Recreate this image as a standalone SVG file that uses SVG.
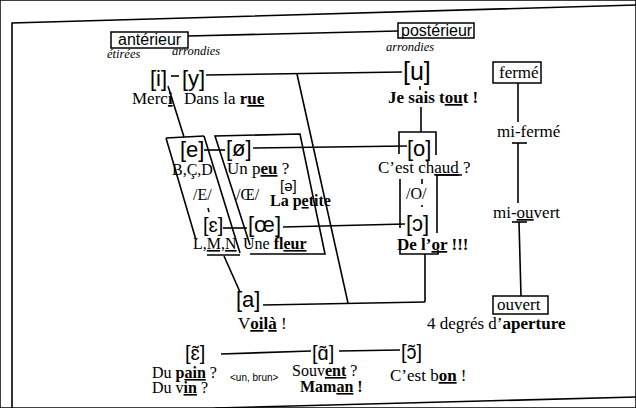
<svg xmlns="http://www.w3.org/2000/svg" width="636" height="408" viewBox="0 0 636 408">
<style>
.s{font-family:"Liberation Serif",serif;font-size:17px;fill:#000}
.b{font-weight:bold}
.u{text-decoration:underline}
.it{font-family:"Liberation Serif",serif;font-style:italic;font-size:12.5px;fill:#000}
.ipa{font-family:"Liberation Sans","DejaVu Sans",sans-serif;font-size:22px;fill:#000}
.lbl{font-family:"Liberation Sans",sans-serif;font-size:16px;fill:#000}
.sm{font-family:"Liberation Sans",sans-serif;font-size:10px;fill:#000}
line,polyline,path{stroke:#000;stroke-width:1.6;fill:none}
rect{fill:#fff;stroke:#000;stroke-width:1.5}
</style>
<rect x="0" y="0" width="636" height="408" fill="#fff" stroke="none"/>
<g id="frame">
<path d="M12,408 L12,23 L636,5"/>
<line x1="215" y1="408" x2="636" y2="397"/>
</g>
<g id="connectors">
<line x1="188" y1="36" x2="398" y2="31"/>
<line x1="171" y1="76" x2="179" y2="76"/>
<line x1="206" y1="75" x2="402" y2="72"/>
<line x1="297" y1="74" x2="348" y2="303"/>
<line x1="168" y1="86" x2="184" y2="137"/>
<line x1="421" y1="107" x2="421" y2="132"/>
<line x1="420" y1="86" x2="420" y2="90"/>
<polyline points="399,154 399,132 436,132 436,155"/>
<line x1="204" y1="150" x2="225" y2="150"/>
<line x1="253" y1="148" x2="407" y2="146"/>
<line x1="223" y1="228" x2="247" y2="228"/>
<line x1="283" y1="227" x2="405" y2="224"/>
<polyline points="166,138 204,136"/>
<line x1="166" y1="138" x2="196" y2="240"/>
<line x1="204" y1="136" x2="240" y2="253"/>
<line x1="207" y1="255" x2="240" y2="255"/>
<line x1="224" y1="256" x2="240" y2="292"/>
<polyline points="250,245 215,136 300,134 325,254 250,254"/>
<line x1="208" y1="208" x2="209" y2="212"/>
<line x1="422" y1="179" x2="422" y2="184"/>
<line x1="422" y1="205" x2="422" y2="207"/>
<polyline points="400,179 400,228"/>
<polyline points="462,175 437,175 437,233"/>
<polyline points="400,250 400,254 438,254 438,250"/>
<line x1="425" y1="254" x2="425" y2="302"/>
<line x1="263" y1="305" x2="425" y2="302"/>
<line x1="518" y1="83" x2="518" y2="122"/>
<line x1="512" y1="143" x2="527" y2="143"/>
<line x1="518" y1="143" x2="518" y2="203"/>
<line x1="512" y1="222" x2="527" y2="222"/>
<line x1="519" y1="222" x2="521" y2="296"/>
<line x1="221" y1="354" x2="311" y2="351"/>
<line x1="339" y1="351" x2="400" y2="350"/>
</g>
<g id="anterieur"><rect x="111" y="32" width="77" height="16"/><text class="lbl" x="118" y="45">antérieur</text></g>
<g id="posterieur"><rect x="398" y="23" width="76" height="15"/><text class="lbl" x="401" y="36">postérieur</text></g>
<g id="etirees"><text class="it" x="107" y="58">étirées</text></g>
<g id="arrondies1"><text class="it" x="172" y="55">arrondies</text></g>
<g id="arrondies2"><text class="it" x="386" y="51">arrondies</text></g>
<g id="i"><text class="ipa" x="150" y="86">[i]</text><text class="s" x="132" y="104">Merc<tspan class="u b">i</tspan></text></g>
<g id="y"><text class="ipa" x="182" y="86">[y]</text><text class="s" x="184" y="104">Dans la <tspan class="b">r<tspan class="u">ue</tspan></tspan></text></g>
<g id="u"><text class="ipa" x="403" y="80" style="font-size:25px">[u]</text><text class="s b" x="388" y="103">Je sais t<tspan class="u">ou</tspan>t !</text></g>
<g id="e"><text class="ipa" x="180" y="157">[e]</text><text class="s" x="172" y="175" style="font-size:16px">B,Ç,D</text><text class="s" x="193" y="200" style="font-size:16px">/E/</text></g>
<g id="oe-slash"><text class="ipa" x="226" y="156">[ø]</text><text class="s" x="227" y="174">Un p<tspan class="u b">eu</tspan> ?</text><text class="s" x="236" y="200" style="font-size:16px">/Œ/</text></g>
<g id="schwa"><text class="ipa" x="280" y="191" style="font-size:15px">[ə]</text><text class="s b" x="270" y="206" style="font-size:16px">La p<tspan class="u">e</tspan>tite</text></g>
<g id="o"><text class="ipa" x="407" y="156">[o]</text><text class="s" x="378" y="173">C’est ch<tspan class="u">aud</tspan> ?</text><text class="s" x="406" y="199" style="font-size:16px">/O/</text></g>
<g id="epsilon"><text class="ipa" x="203" y="232" style="font-size:20px">[ɛ]</text><text class="s" x="193" y="249" style="font-size:16px">L,<tspan class="u">M,N</tspan></text></g>
<g id="oe"><text class="ipa" x="248" y="232">[œ]</text><text class="s" x="243" y="249" style="font-size:16px">Une <tspan class="b">fl<tspan class="u">eur</tspan></tspan></text></g>
<g id="openo"><text class="ipa" x="406" y="231">[ɔ]</text><text class="s b" x="397" y="250">De l’<tspan class="u">or</tspan> !!!</text></g>
<g id="a"><text class="ipa" x="236" y="307">[a]</text><text class="s" x="238" y="329">V<tspan class="b"><tspan class="u">oi</tspan>l<tspan class="u">à</tspan></tspan> !</text></g>
<g id="ferme"><rect x="493" y="62" width="48" height="21"/><text class="s" x="499" y="78">fermé</text></g>
<g id="mi-ferme"><text class="s" x="497" y="137">mi-fermé</text></g>
<g id="mi-ouvert"><text class="s" x="493" y="218">mi-<tspan class="u">ou</tspan>vert</text></g>
<g id="ouvert"><rect x="493" y="296" width="55" height="18"/><text class="s" x="497" y="310">ouvert</text></g>
<g id="aperture"><text class="s" x="427" y="329">4 degrés d’<tspan class="b">aperture</tspan></text></g>
<g id="nasal-e"><text class="ipa" x="185" y="360" style="font-size:20px">[ɛ̃]</text><text class="s" x="152" y="378" style="font-size:16px">Du <tspan class="b">p<tspan class="u">ain</tspan></tspan> ?</text><text class="s" x="152" y="393" style="font-size:16px">Du v<tspan class="u b">in</tspan> ?</text><text class="sm" x="230" y="381">&lt;un, brun&gt;</text></g>
<g id="nasal-a"><text class="ipa" x="312" y="360" style="font-size:20px">[ɑ̃]</text><text class="s" x="292" y="376" style="font-size:16px">Souv<tspan class="u b">ent</tspan> ?</text><text class="s b" x="300" y="392" style="font-size:16px">Mam<tspan class="u">an</tspan> !</text></g>
<g id="nasal-o"><text class="ipa" x="401" y="359" style="font-size:20px">[ɔ̃]</text><text class="s" x="390" y="381">C’est b<tspan class="u b">on</tspan> !</text></g>
</svg>
